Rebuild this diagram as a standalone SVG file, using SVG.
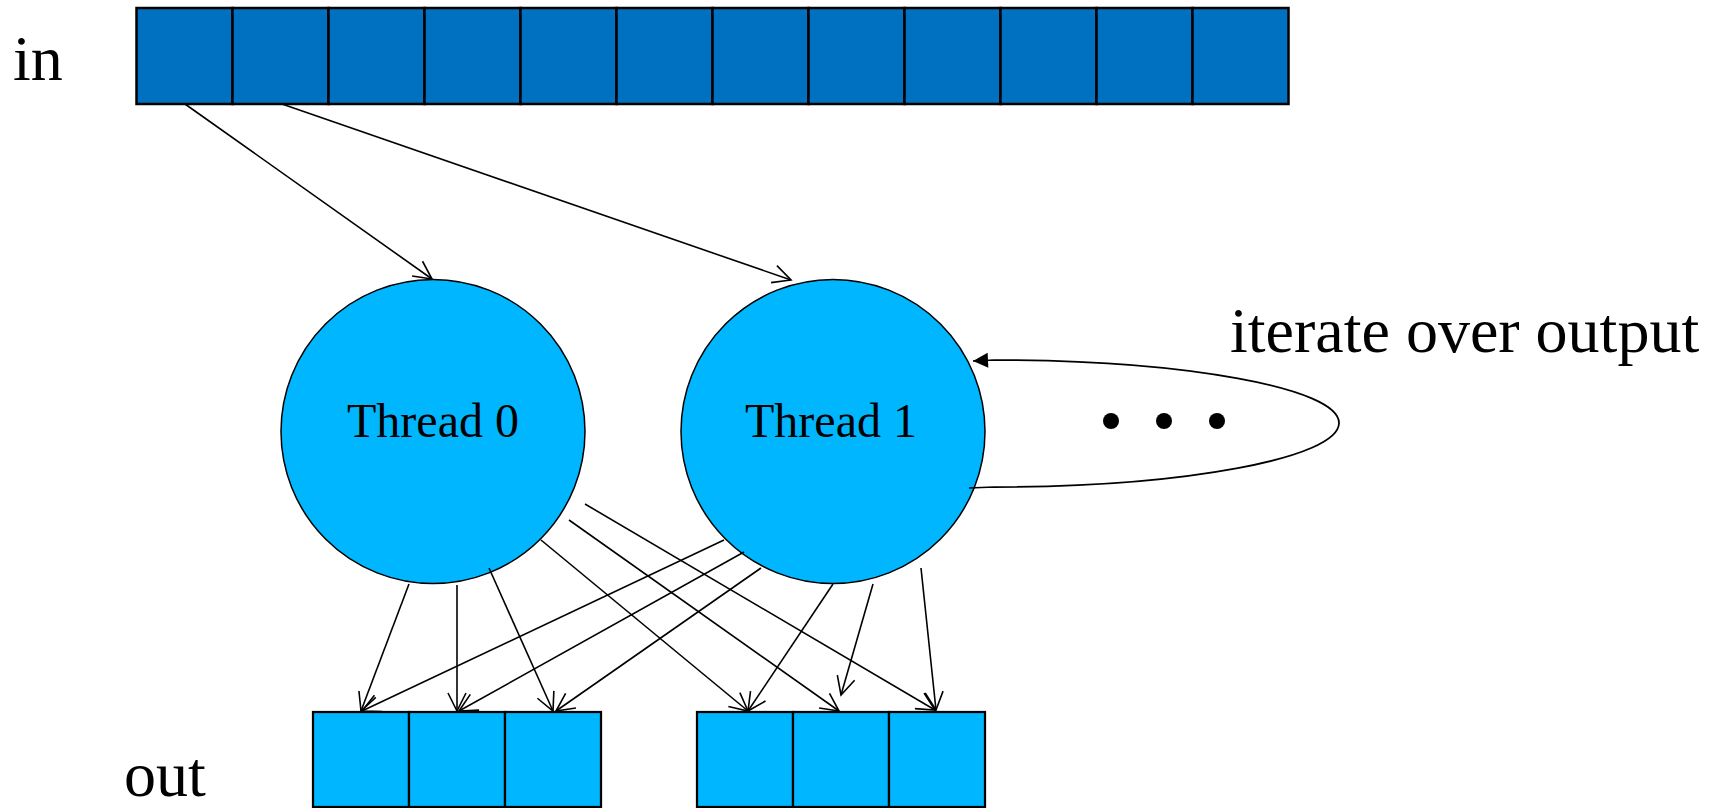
<svg xmlns="http://www.w3.org/2000/svg" width="1726" height="808" viewBox="0 0 1726 808">
  <style>
    .label { font-family: "Liberation Serif", "Times New Roman", serif; font-size: 64px; fill: #000; }
    .thread-label { font-family: "Liberation Serif", "Times New Roman", serif; font-size: 48px; fill: #000; text-anchor: middle; }
    .in-cell { fill: #0070C0; stroke: #000; stroke-width: 2.5; }
    .out-cell { fill: #00B6FF; stroke: #000; stroke-width: 2.25; }
    .thread { fill: #00B6FF; stroke: #000; stroke-width: 1.5; }
    .edge { fill: none; stroke: #000; stroke-width: 1.6; marker-end: url(#open-arrow); }
    .loop { fill: none; stroke: #000; stroke-width: 1.75; marker-end: url(#solid-arrow); }
    .dot { fill: #000; }
  </style>
  <defs>
    <marker id="open-arrow" markerUnits="userSpaceOnUse" markerWidth="24" markerHeight="24" viewBox="-20 -12 24 24" refX="0" refY="0" orient="auto" overflow="visible">
      <path d="M -18 -9 L 0 0 L -18 9" fill="none" stroke="#000" stroke-width="1.6"/>
    </marker>
    <marker id="solid-arrow" markerUnits="userSpaceOnUse" markerWidth="20" markerHeight="20" viewBox="-16 -10 20 20" refX="0" refY="0" orient="auto" overflow="visible">
      <path d="M -15 -7.5 L 0 0 L -15 7.5 Z" fill="#000"/>
    </marker>
  </defs>

  <!-- input array: 12 square cells -->
  <g id="in-array">
    <rect class="in-cell" x="136.5" y="8" width="96" height="96"/>
    <rect class="in-cell" x="232.5" y="8" width="96" height="96"/>
    <rect class="in-cell" x="328.5" y="8" width="96" height="96"/>
    <rect class="in-cell" x="424.5" y="8" width="96" height="96"/>
    <rect class="in-cell" x="520.5" y="8" width="96" height="96"/>
    <rect class="in-cell" x="616.5" y="8" width="96" height="96"/>
    <rect class="in-cell" x="712.5" y="8" width="96" height="96"/>
    <rect class="in-cell" x="808.5" y="8" width="96" height="96"/>
    <rect class="in-cell" x="904.5" y="8" width="96" height="96"/>
    <rect class="in-cell" x="1000.5" y="8" width="96" height="96"/>
    <rect class="in-cell" x="1096.5" y="8" width="96" height="96"/>
    <rect class="in-cell" x="1192.5" y="8" width="96" height="96"/>
  </g>
  <g id="in-label">
    <text class="label" x="13" y="80">in</text>
  </g>

  <!-- worker threads -->
  <g id="thread-0">
    <circle class="thread" cx="433" cy="431.5" r="152"/>
    <text class="thread-label" x="433" y="437">Thread 0</text>
  </g>
  <g id="thread-1">
    <circle class="thread" cx="833" cy="431.5" r="152"/>
    <text class="thread-label" x="831" y="437">Thread 1</text>
  </g>

  <!-- output arrays -->
  <g id="out-0">
    <rect class="out-cell" x="313" y="712" width="96" height="95"/>
    <rect class="out-cell" x="409" y="712" width="96" height="95"/>
    <rect class="out-cell" x="505" y="712" width="96" height="95"/>
  </g>
  <g id="out-1">
    <rect class="out-cell" x="697" y="712" width="96" height="95"/>
    <rect class="out-cell" x="793" y="712" width="96" height="95"/>
    <rect class="out-cell" x="889" y="712" width="96" height="95"/>
  </g>
  <g id="out-label">
    <text class="label" x="124" y="796">out</text>
  </g>

  <!-- ellipsis for further threads -->
  <g id="more-threads">
    <circle class="dot" cx="1111" cy="421" r="8"/>
    <circle class="dot" cx="1164" cy="421" r="8"/>
    <circle class="dot" cx="1217" cy="421" r="8"/>
  </g>

  <g id="iterate-label">
    <text class="label" x="1230" y="352">iterate over output</text>
  </g>

  <!-- connectors -->
  <g id="connectors">
    <!-- input to threads -->
    <line class="edge" x1="185" y1="104" x2="432" y2="279"/>
    <line class="edge" x1="282" y1="104" x2="791" y2="280"/>

    <!-- thread 0 to outputs -->
    <line class="edge" x1="409" y1="584" x2="361" y2="711"/>
    <line class="edge" x1="457" y1="585" x2="457" y2="711"/>
    <line class="edge" x1="489" y1="568" x2="553" y2="711"/>
    <line class="edge" x1="541" y1="540" x2="748" y2="711"/>
    <line class="edge" x1="569" y1="520" x2="839" y2="711"/>
    <line class="edge" x1="585" y1="504" x2="935" y2="710"/>

    <!-- thread 1 to outputs -->
    <line class="edge" x1="724" y1="540" x2="362" y2="711"/>
    <line class="edge" x1="744" y1="552" x2="459" y2="711"/>
    <line class="edge" x1="761" y1="568" x2="556" y2="711"/>
    <line class="edge" x1="833" y1="584" x2="748" y2="711"/>
    <line class="edge" x1="873" y1="584" x2="841" y2="695"/>
    <line class="edge" x1="921" y1="568" x2="936" y2="710"/>

    <!-- iteration loop back into thread 1 -->
    <path class="loop" d="M 969 488 L 994 487 C 1184 487 1339 458 1339 423 C 1339 388 1184 360 994 360 L 973 361"/>
  </g>
</svg>
